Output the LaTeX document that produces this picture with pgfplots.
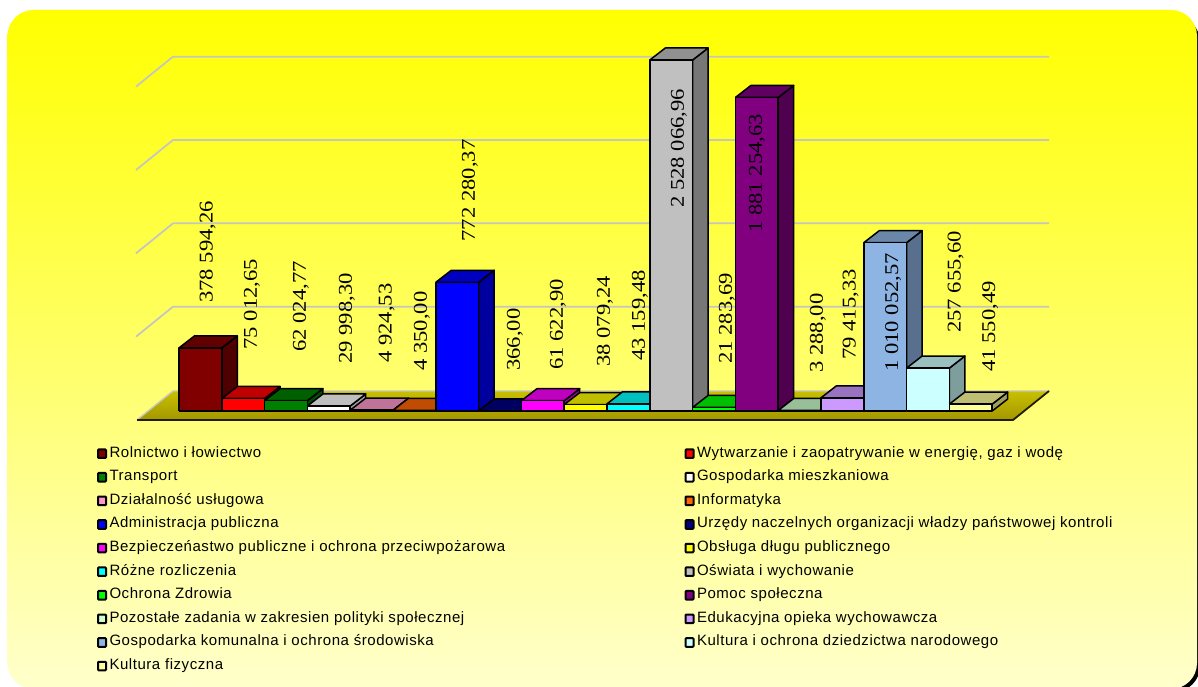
\documentclass[border=0pt]{standalone}
\usepackage{fontspec}
\setmainfont[LetterSpace=3.7]{Liberation Sans}
\newfontfamily\labfont{Liberation Serif}
\usepackage{graphicx}
\usepackage{pgfplots}
\pgfplotsset{compat=1.18}

% x axis runs in picture pixels, y axis in thousands (6 units = 1 pixel), zero at pixel row 411
\newcommand{\tbar}[3]{%
  \pgfmathsetmacro\xl{179+42.8*#1}%
  \pgfmathsetmacro\xr{\xl+42.8}%
  \pgfmathsetmacro\xlb{\xl+15.5}%
  \pgfmathsetmacro\xrb{\xr+15.5}%
  \pgfmathsetmacro\vt{min(#2,2106)}%
  \pgfmathsetmacro\vb{\vt+72}%
  \addplot[forget plot, fill=#3!62!black, draw=black, line width=1.5pt, line join=round]
    coordinates {(\xr,0)(\xrb,72)(\xrb,\vb)(\xr,\vt)(\xr,0)};
  \addplot[forget plot, fill=#3!75!black, draw=black, line width=1.5pt, line join=round]
    coordinates {(\xl,\vt)(\xr,\vt)(\xrb,\vb)(\xlb,\vb)(\xl,\vt)};
  \addplot[forget plot, fill=#3, draw=black, line width=1.5pt, line join=round]
    coordinates {(\xl,0)(\xr,0)(\xr,\vt)(\xl,\vt)(\xl,0)};
}
% rotated value label: centre x in pixels, lower end on the y axis
\newcommand{\vlab}[3]{%
  \node[rotate=90, anchor=west, inner sep=0pt, text=black, xshift=1pt] at (axis cs:#1,#2)
    {\labfont\fontsize{19.5pt}{21pt}\selectfont\scalebox{1.16}[1]{#3}};
}
\newcommand{\gridl}[1]{%
  \pgfmathsetmacro\gb{#1+126}%
  \pgfmathsetmacro\gf{#1-54}%
  \addplot[forget plot, draw=gridc, line width=1.8pt, line join=round]
    coordinates {(136,\gf)(173,\gb)(1049,\gb)};
}
\newcommand{\lcell}[1]{\hspace{2.5pt}\makebox[575pt][l]{#1}}
\newcommand{\lkey}[1]{%
  \addlegendimage{legend image code/.code={\draw[fill=#1, draw=black, line width=2pt, rounded corners=0.8pt] (0pt,-4.3pt) rectangle (8pt,4.3pt);}}
}

\definecolor{gridc}{HTML}{C6C6C0}
\definecolor{Floor1}{HTML}{C8C000}
\definecolor{Floor2}{HTML}{A49600}
\definecolor{c01}{HTML}{800000}
\definecolor{c02}{HTML}{FF0000}
\definecolor{c03}{HTML}{008000}
\definecolor{c04}{HTML}{FFFFFF}
\definecolor{c05}{HTML}{FF99CC}
\definecolor{c06}{HTML}{FF6600}
\definecolor{c07}{HTML}{0000FF}
\definecolor{c08}{HTML}{000080}
\definecolor{c09}{HTML}{FF00FF}
\definecolor{c10}{HTML}{FFFF00}
\definecolor{c11}{HTML}{00FFFF}
\definecolor{c12}{HTML}{C0C0C0}
\definecolor{c13}{HTML}{00FF00}
\definecolor{c14}{HTML}{800080}
\definecolor{c15}{HTML}{CCFFCC}
\definecolor{c16}{HTML}{CC99FF}
\definecolor{c17}{HTML}{8EB4E3}
\definecolor{c18}{HTML}{CCFFFF}
\definecolor{c19}{HTML}{FFFF99}

\begin{document}
\begin{tikzpicture}[x=1pt,y=1pt]
\useasboundingbox (0,0) rectangle (1198,686);
% panel with its dark rim at the lower right
\fill[black, rounded corners=26pt] (24,-6) rectangle (1200,670);
\shade[top color=yellow, bottom color=yellow!20!white, middle color=yellow!60!white, rounded corners=26pt]
  (7.5,-3) rectangle (1197,676);
\begin{axis}[
  at={(0,0)}, anchor=south west,
  scale only axis, width=1198pt, height=686pt,
  xmin=0, xmax=1198, ymin=-1650, ymax=2466,
  hide axis,
  legend columns=2,
  legend cell align=left,
  legend style={
    at={(axis cs:97,-217)}, anchor=north west,
    draw=none, fill=none, inner sep=0pt, outer sep=0pt,
    row sep=10.6pt, column sep=0pt,
    font=\fontsize{15pt}{16pt}\selectfont,
    nodes={inner sep=0pt, text height=10pt, text depth=3pt},
  },
]
% back wall grid
\gridl{500}\gridl{1000}\gridl{1500}\gridl{2000}
% floor
\addplot[forget plot, draw=none, top color=Floor1, bottom color=Floor2]
  coordinates {(137,-54)(1013,-54)(1049,120)(173,120)(137,-54)};
\addplot[forget plot, draw=gridc, line width=1.4pt] coordinates {(137,-54)(173,120)(1049,120)};
\addplot[forget plot, draw=black!80!Floor2, line width=1.8pt, line join=round]
  coordinates {(137,-54)(1013,-54)(1049,120)};

% bars, values in thousands; the 2 528 066,96 bar is cut at the top of the plot
\tbar{0}{378.59426}{c01}
\tbar{1}{75.01265}{c02}
\tbar{2}{62.02477}{c03}
\tbar{3}{29.99830}{c04}
\tbar{4}{4.92453}{c05}
\tbar{5}{4.35000}{c06}
\tbar{6}{772.28037}{c07}
\tbar{7}{0.36600}{c08}
\tbar{8}{61.62290}{c09}
\tbar{9}{38.07924}{c10}
\tbar{10}{43.15948}{c11}
\tbar{11}{2528.06696}{c12}
\tbar{12}{21.28369}{c13}
\tbar{13}{1881.25463}{c14}
\tbar{14}{3.28800}{c15}
\tbar{15}{79.41533}{c16}
\tbar{16}{1010.05257}{c17}
\tbar{17}{257.65560}{c18}
\tbar{18}{41.55049}{c19}

\vlab{207.7}{642}{378 594,26}
\vlab{252}{362}{75 012,65}
\vlab{301}{348}{62 024,77}
\vlab{347}{276}{29 998,30}
\vlab{386.7}{282}{4 924,53}
\vlab{422}{234}{4 350,00}
\vlab{470}{1010}{772 280,37}
\vlab{515}{234}{366,00}
\vlab{558}{240}{61 622,90}
\vlab{605}{258}{38 079,24}
\vlab{640}{294}{43 159,48}
\vlab{679}{1212}{2 528 066,96}
\vlab{727}{276}{21 283,69}
\vlab{757}{1062}{1 881 254,63}
\vlab{818}{222}{3 288,00}
\vlab{850.7}{300}{79 415,33}
\vlab{893}{228}{1 010 052,57}
\vlab{955.7}{462}{257 655,60}
\vlab{990}{228}{41 550,49}

\lkey{c01}\addlegendentry{\lcell{Rolnictwo i łowiectwo}}
\lkey{c02}\addlegendentry{\lcell{Wytwarzanie i zaopatrywanie w energię, gaz i wodę}}
\lkey{c03}\addlegendentry{\lcell{Transport}}
\lkey{c04}\addlegendentry{\lcell{Gospodarka mieszkaniowa}}
\lkey{c05}\addlegendentry{\lcell{Działalność usługowa}}
\lkey{c06}\addlegendentry{\lcell{Informatyka}}
\lkey{c07}\addlegendentry{\lcell{Administracja publiczna}}
\lkey{c08}\addlegendentry{\lcell{Urzędy naczelnych organizacji władzy państwowej kontroli}}
\lkey{c09}\addlegendentry{\lcell{Bezpieczeńastwo publiczne i ochrona przeciwpożarowa}}
\lkey{c10}\addlegendentry{\lcell{Obsługa długu publicznego}}
\lkey{c11}\addlegendentry{\lcell{Różne rozliczenia}}
\lkey{c12}\addlegendentry{\lcell{Oświata i wychowanie}}
\lkey{c13}\addlegendentry{\lcell{Ochrona Zdrowia}}
\lkey{c14}\addlegendentry{\lcell{Pomoc społeczna}}
\lkey{c15}\addlegendentry{\lcell{Pozostałe zadania w zakresien polityki społecznej}}
\lkey{c16}\addlegendentry{\lcell{Edukacyjna opieka wychowawcza}}
\lkey{c17}\addlegendentry{\lcell{Gospodarka komunalna i ochrona środowiska}}
\lkey{c18}\addlegendentry{\lcell{Kultura i ochrona dziedzictwa narodowego}}
\lkey{c19}\addlegendentry{\lcell{Kultura fizyczna}}
\end{axis}
\end{tikzpicture}
\end{document}
